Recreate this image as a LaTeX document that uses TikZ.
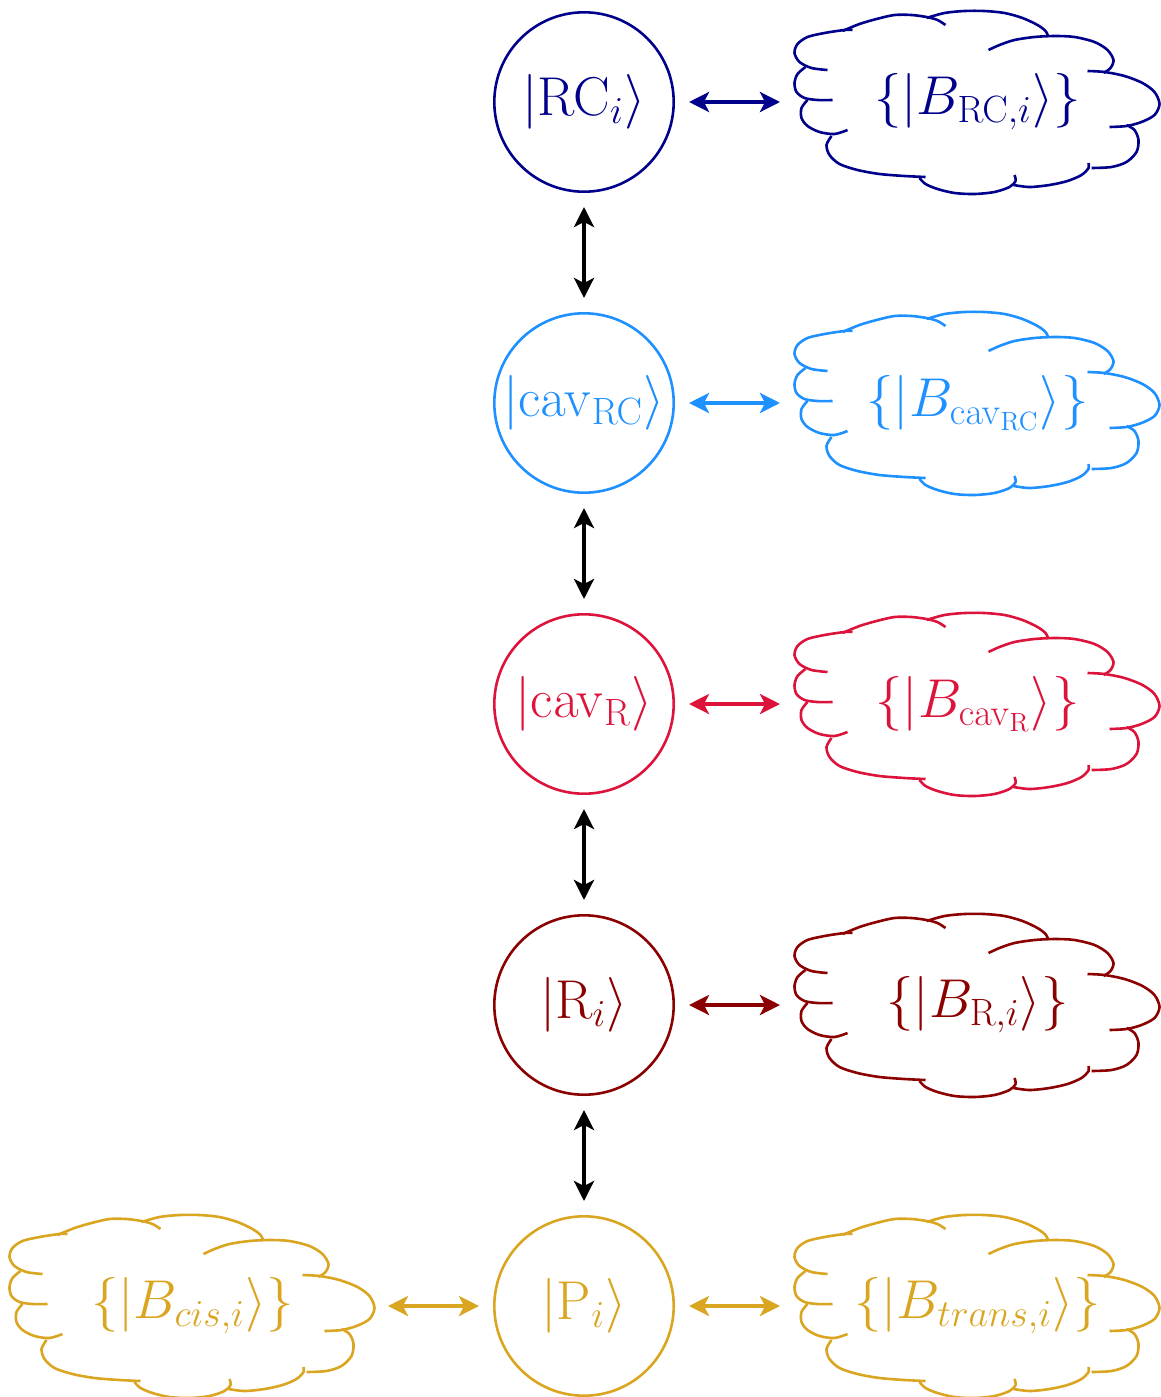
\documentclass[tikz,border=0pt]{standalone}
\usepackage{graphicx}
\usetikzlibrary{arrows.meta}
\DeclareMathSizes{24.88}{24.88}{17.28}{12}
\definecolor{cA}{RGB}{0,0,139}
\definecolor{cB}{RGB}{30,144,255}
\definecolor{cC}{RGB}{220,20,60}
\definecolor{cD}{RGB}{139,0,0}
\definecolor{cE}{RGB}{218,165,32}
\newcommand\lbl[1]{\scalebox{1.1}{$#1$}}
\newcommand\cloudoutline[2]{%
 \begin{scope}[shift={(#1.center)}]
  \draw[ln,#2] plot[smooth] coordinates {(-150,-32) (-166,-34) (-178,-40) (-183,-49) (-180,-58) (-170,-65) (-153,-69) (-133,-72) (-125,-72)};
  \draw[ln,#2] plot[smooth] coordinates {(-135,-71) (-118,-78) (-101,-83) (-83,-87) (-66,-87) (-51,-85) (-40,-82) (-32,-77)};
  \draw[ln,#2] plot[smooth] coordinates {(-51,-84) (-33,-89) (-13,-91) (7,-91) (27,-89) (45,-84) (60,-77) (68,-71) (71,-65)};
  \draw[ln,#2] plot[smooth] coordinates {(11,-52) (22,-57) (37,-62) (57,-65) (77,-66) (97,-65) (117,-60) (130,-52) (136,-42) (133,-34) (126,-29)};
  \draw[ln,#2] plot[smooth] coordinates {(110,-31) (127,-30) (147,-26) (165,-19) (177,-10) (182,2) (177,13) (164,20) (149,24) (132,25)};
  \draw[ln,#2] plot[smooth] coordinates {(149,23) (157,28) (161,38) (159,50) (149,60) (134,65) (114,66)};
  \draw[ln,#2] plot[smooth] coordinates {(111,61) (111,66) (104,73) (90,79) (72,83) (52,85) (36,83)};
  \draw[ln,#2] plot[smooth] coordinates {(37,73) (38,79) (32,85) (17,90) (-3,92) (-23,91) (-40,87) (-52,82) (-58,76)};
  \draw[ln,#2] plot[smooth] coordinates {(-52,75) (-73,74) (-98,72) (-120,68) (-138,62) (-148,53) (-151,43) (-146,34)};
  \draw[ln,#2] plot[smooth] coordinates {(-170,-2) (-176,6) (-176,16) (-170,24) (-158,30) (-143,32) (-130,28)};
  \draw[ln,#2] plot[smooth] coordinates {(-172,-35) (-180,-28) (-183,-19) (-181,-10) (-173,-4) (-160,-2) (-145,-2)};
 \end{scope}}
\begin{document}
\begin{tikzpicture}[x=0.5pt,y=-0.5pt,
  ln/.style={line width=1.3pt},
  circ/.style={circle, draw, ln, minimum size=89.7pt, inner sep=0pt, font=\Huge},
  cbox/.style={rectangle, minimum width=183.5pt, minimum height=92pt, inner sep=0pt, outer sep=0pt, font=\Huge},
  >={Stealth[length=10pt,width=10pt,inset=2.5pt]},
  link/.style={<->, line width=1.8pt, shorten >=7pt, shorten <=7pt}]
\useasboundingbox (0,0) rectangle (1161,1397);
% states
\node[circ, draw=cA, text=cA] (rc) at (584,102) {\lbl{|\mathrm{RC}_i\rangle}};
\node[circ, draw=cB, text=cB] (cavrc) at (584,403) {\lbl{|\mathrm{cav}_{\mathrm{RC}}\rangle}};
\node[circ, draw=cC, text=cC] (cavr) at (584,704) {\lbl{|\mathrm{cav}_{\mathrm{R}}\rangle}};
\node[circ, draw=cD, text=cD] (r) at (584,1005) {\lbl{|\mathrm{R}_i\rangle}};
\node[circ, draw=cE, text=cE] (p) at (584,1306) {\lbl{|\mathrm{P}_i\rangle}};
% baths
\node[cbox, text=cA] (brc) at (977.5,102) {\lbl{\{|B_{\mathrm{RC},i}\rangle\}}};
\node[cbox, text=cB] (bcavrc) at (977.5,403) {\lbl{\{|B_{\mathrm{cav}_{\mathrm{RC}}}\rangle\}}};
\node[cbox, text=cC] (bcavr) at (977.5,704) {\lbl{\{|B_{\mathrm{cav}_{\mathrm{R}}}\rangle\}}};
\node[cbox, text=cD] (br) at (977.5,1005) {\lbl{\{|B_{\mathrm{R},i}\rangle\}}};
\node[cbox, text=cE] (btrans) at (977.5,1306) {\lbl{\{|B_{trans,i}\rangle\}}};
\node[cbox, text=cE] (bcis) at (192.5,1306) {\lbl{\{|B_{cis,i}\rangle\}}};
\cloudoutline{brc}{cA}
\cloudoutline{bcavrc}{cB}
\cloudoutline{bcavr}{cC}
\cloudoutline{br}{cD}
\cloudoutline{btrans}{cE}
\cloudoutline{bcis}{cE}
% vertical links
\draw[link] (rc) -- (cavrc);
\draw[link] (cavrc) -- (cavr);
\draw[link] (cavr) -- (r);
\draw[link] (r) -- (p);
% horizontal links
\draw[link, cA] (rc) -- (brc);
\draw[link, cB] (cavrc) -- (bcavrc);
\draw[link, cC] (cavr) -- (bcavr);
\draw[link, cD] (r) -- (br);
\draw[link, cE] (p) -- (btrans);
\draw[link, cE, shorten <=6pt] (bcis) -- (p);
\end{tikzpicture}
\end{document}
